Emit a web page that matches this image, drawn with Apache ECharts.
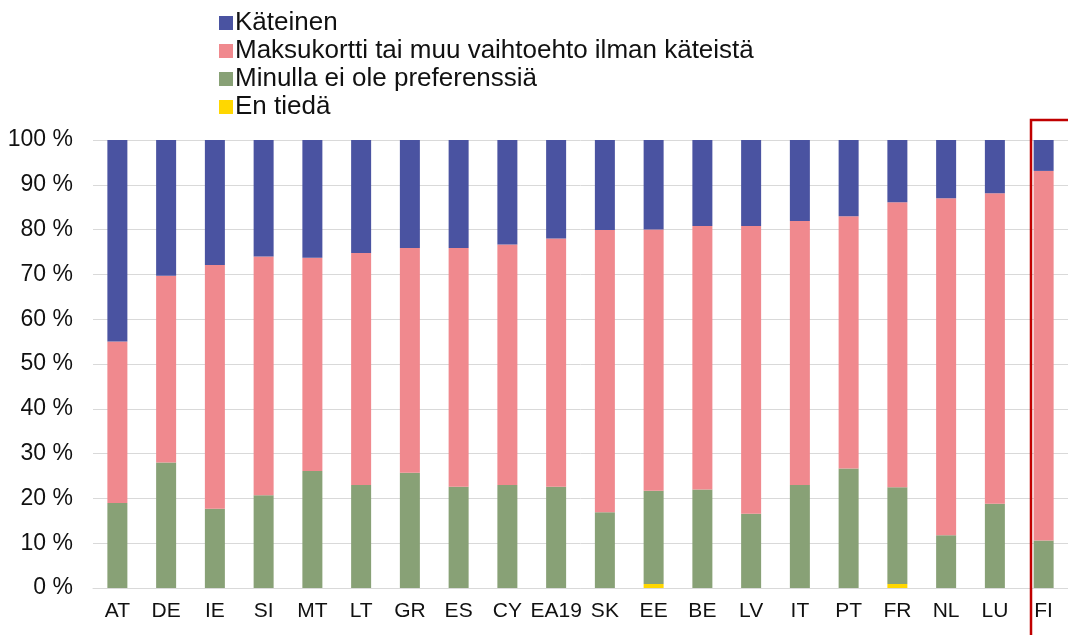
<!DOCTYPE html>
<html>
<head>
<meta charset="utf-8">
<script src="https://cdn.jsdelivr.net/npm/echarts@6/dist/echarts.min.js"></script>
<style>
  html, body { margin: 0; padding: 0; background: #fff; }
  #main { width: 1068px; height: 635px; }
</style>
</head>
<body>
<div id="main"></div>
<script>
// maat
var maat = ['AT','DE','IE','SI','MT','LT','GR','ES','CY','EA19','SK','EE','BE','LV','IT','PT','FR','NL','LU','FI'];
// osuudet, %
var kateinen = [45, 30.3, 27.9, 26, 26.3, 25.2, 24.1, 24.1, 23.3, 22, 20.1, 20, 19.2, 19.2, 18.1, 17, 13.9, 13, 11.9, 6.9];
var maksukortti = [36, 41.7, 54.4, 53.3, 47.6, 51.8, 50.2, 53.3, 53.7, 55.4, 63, 58.3, 58.8, 64.2, 58.9, 56.3, 63.6, 75.2, 69.3, 82.5];
var eiPreferenssia = [19, 28, 17.7, 20.7, 26.1, 23, 25.7, 22.6, 23, 22.6, 16.9, 20.8, 22, 16.6, 23, 26.7, 21.6, 11.8, 18.8, 10.6];
var enTieda = [0, 0, 0, 0, 0, 0, 0, 0, 0, 0, 0, 0.9, 0, 0, 0, 0, 0.9, 0, 0, 0];
var yTicks = [0, 10, 20, 30, 40, 50, 60, 70, 80, 90, 100];

var fontti = 'Liberation Sans, Arial, sans-serif';

var option = {
    animation: false,
    color: ['#FFD700', '#88A176', '#F0898E', '#4A53A1'],
    legend: {
        orient: 'vertical',
        left: 214,
        top: 5,
        itemWidth: 14,
        itemHeight: 14,
        itemGap: 2,
        icon: 'rect',
        data: ['Käteinen', 'Maksukortti tai muu vaihtoehto ilman käteistä', 'Minulla ei ole preferenssiä', 'En tiedä'],
        textStyle: { fontFamily: fontti, fontSize: 26, color: '#111', padding: [0, 0, 0, -3], lineHeight: 24 }
    },
    grid: { left: 93, right: -8, top: 140, bottom: 47 },
    xAxis: {
        type: 'category',
        data: maat,
        axisTick: { show: false },
        axisLine: { lineStyle: { color: '#d9d9d9', width: 1 } },
        axisLabel: { fontFamily: fontti, fontSize: 21, color: '#111', margin: 13, interval: 0 }
    },
    yAxis: {
        type: 'value',
        min: 0,
        max: 100,
        interval: 10,
        axisLine: { show: false },
        axisTick: { show: false },
        splitLine: { lineStyle: { color: '#d9d9d9', width: 1 } },
        axisLabel: {
            fontFamily: fontti, fontSize: 23, color: '#111', margin: 20,
            formatter: function (v) { return yTicks.indexOf(v) >= 0 ? v + ' %' : ''; }
        }
    },
    series: [
        { name: 'En tiedä', type: 'bar', stack: 'a', data: enTieda, barWidth: 20 },
        { name: 'Minulla ei ole preferenssiä', type: 'bar', stack: 'a', data: eiPreferenssia, barWidth: 20 },
        { name: 'Maksukortti tai muu vaihtoehto ilman käteistä', type: 'bar', stack: 'a', data: maksukortti, barWidth: 20 },
        { name: 'Käteinen', type: 'bar', stack: 'a', data: kateinen, barWidth: 20 }
    ],
    graphic: [
        {
            type: 'rect',
            shape: { x: 1031, y: 120, width: 60, height: 540 },
            style: { fill: 'none', stroke: '#C00000', lineWidth: 2.5 },
            z: 100
        }
    ]
};

var myChart = echarts.init(document.getElementById('main'));
myChart.setOption(option, true);
</script>
</body>
</html>
